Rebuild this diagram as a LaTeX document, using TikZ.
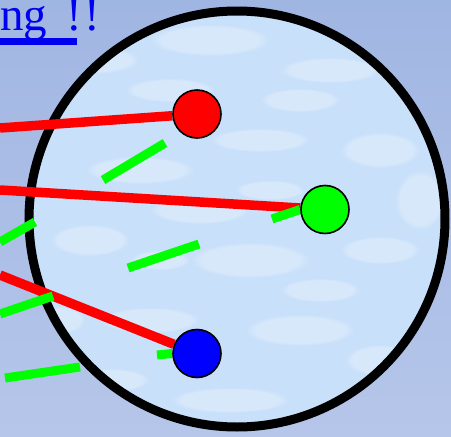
\documentclass[tikz,border=0pt]{standalone}
\usepackage{fontspec}
\setmainfont{Liberation Serif}
\usetikzlibrary{fadings}

\definecolor{skytop}{RGB}{160,182,226}
\definecolor{skybot}{RGB}{182,198,234}
\definecolor{diskfill}{RGB}{200,224,250}
\definecolor{linkblue}{RGB}{0,0,240}
\pgfdeclarelayer{back}
\pgfsetlayers{back,main}

\begin{document}
\begin{tikzpicture}[x=1pt, y=-1pt,
    ball/.style={circle, draw, line width=1.6pt, minimum size=48pt, inner sep=0pt},
    redwire/.style={draw=red, line width=9.5pt},
    greenbar/.style={draw=green, line width=9pt},
    cloudpuff/.style={fill=white, opacity=0.28,
      path fading=circle with fuzzy edge 20 percent}
  ]
  \useasboundingbox (0,0) rectangle (451,437);

  % sky and the big disk
  \begin{pgfonlayer}{back}
    \shade[top color=skytop, bottom color=skybot] (0,0) rectangle (451,437);
    \fill[diskfill] (237,219) circle[radius=208];
    \begin{scope}
      \clip (237,219) circle[radius=208];
      \foreach \cx/\cy/\rx/\ry in {90/60/50/14, 210/40/60/16, 330/70/50/13,
          380/150/40/18, 140/170/55/14, 260/140/50/12, 90/240/40/16,
          250/260/60/18, 380/250/40/14, 150/320/50/13, 300/330/55/16,
          230/400/60/13, 380/360/35/16, 60/320/25/14, 300/100/40/12,
          170/90/45/12, 200/210/50/14, 320/290/40/12, 110/380/40/12,
          420/200/25/30, 270/190/35/10, 160/260/30/10}
        \fill[cloudpuff] (\cx,\cy) ellipse[x radius=\rx, y radius=\ry];
    \end{scope}
    \draw[line width=9pt] (237,219) circle[radius=208];
  \end{pgfonlayer}

  % heading
  \node[anchor=base west, inner sep=0pt, text=linkblue,
    font=\fontsize{47}{56}\selectfont] (title) at (0,30) {ng\hspace{19pt}!\kern3pt!};
  \fill[linkblue] (0,38) rectangle (77,45);

  % balls
  \node[ball, fill=red] (redball) at (197,114) {};
  \node[ball, fill=green] (greenball) at (325,209.5) {};
  \node[ball, fill=blue] (blueball) at (197,353.5) {};

  \coordinate (wirea) at (0,128);
  \coordinate (wireb) at (0,190);
  \coordinate (wirec) at (0,275);
  \coordinate (stubg) at (272,219);
  \coordinate (stubb) at (157,355);

  \begin{pgfonlayer}{back}
    \draw[redwire] (wirea) -- (redball);
    \draw[redwire] (wireb) -- (greenball);
    \draw[redwire] (wirec) -- (blueball);
    \foreach \p/\q in {{103,180}/{165,143}, {0,242}/{35,222},
        {128,268}/{199,244}, {0,314}/{53,296}, {5,378}/{80,367}}
      \draw[greenbar] (\p) -- (\q);
    \draw[greenbar] (stubg) -- (greenball.west);
    \draw[greenbar] (stubb) -- (blueball.west);
  \end{pgfonlayer}
\end{tikzpicture}
\end{document}
